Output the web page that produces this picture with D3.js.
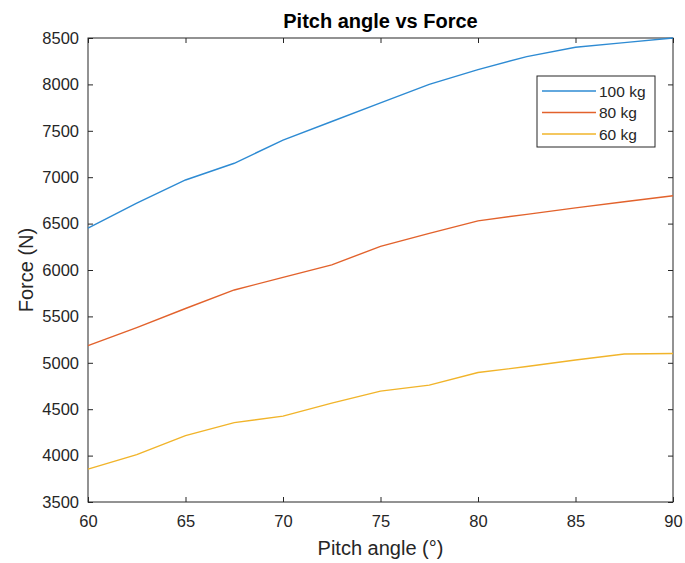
<!DOCTYPE html>
<html>
<head>
<meta charset="utf-8">
<script src="https://cdn.jsdelivr.net/npm/d3@7"></script>
<style>
  body { margin: 0; background: #fff; }
  svg { font-family: "Liberation Sans", Arial, sans-serif; }
</style>
</head>
<body>
<div id="chart"></div>
<script>
// Pitch angle (deg)
const pitchAngles = [60, 62.5, 65, 67.5, 70, 72.5, 75, 77.5, 80, 82.5, 85, 87.5, 90];
// Force (N) per mass
const force100 = [6450, 6720, 6970, 7150, 7400, 7600, 7800, 8000, 8160, 8300, 8400, 8450, 8500];
const force80 = [5185, 5380, 5585, 5785, 5920, 6055, 6255, 6395, 6530, 6600, 6670, 6735, 6800];
const force60 = [3855, 4010, 4215, 4355, 4425, 4565, 4695, 4760, 4895, 4960, 5030, 5095, 5100];
const seriesNames = ["100 kg", "80 kg", "60 kg"];
const seriesColors = ["#2e8bd3", "#e2622c", "#f1b42a"];
const xTicks = [60, 65, 70, 75, 80, 85, 90];
const yTicks = [3500, 4000, 4500, 5000, 5500, 6000, 6500, 7000, 7500, 8000, 8500];

const width = 685, height = 563;
const margin = { top: 38, right: 12, bottom: 61, left: 88 };
const innerW = width - margin.left - margin.right;
const innerH = height - margin.top - margin.bottom;
const axisColor = "#262626";

const svg = d3.select("#chart").append("svg")
  .attr("width", width)
  .attr("height", height);

const g = svg.append("g")
  .attr("transform", `translate(${margin.left},${margin.top})`);

const x = d3.scaleLinear().domain([60, 90]).range([0, innerW]);
const y = d3.scaleLinear().domain([3500, 8500]).range([innerH, 0]);

// axes with inward ticks
const styleAxis = (sel) => {
  sel.select(".domain").remove();
  sel.selectAll(".tick line").attr("stroke", axisColor);
  sel.selectAll(".tick text")
    .attr("fill", axisColor)
    .style("font-size", "16.5px");
};

g.append("g")
  .attr("transform", `translate(0,${innerH})`)
  .call(d3.axisBottom(x).tickValues(xTicks).tickSize(-5).tickPadding(13).tickFormat(d3.format("d")))
  .call(styleAxis);

g.append("g")
  .call(d3.axisTop(x).tickValues(xTicks).tickSize(-5).tickFormat(""))
  .call(styleAxis);

g.append("g")
  .call(d3.axisLeft(y).tickValues(yTicks).tickSize(-5).tickPadding(9).tickFormat(d3.format("d")))
  .call(styleAxis);

g.append("g")
  .attr("transform", `translate(${innerW},0)`)
  .call(d3.axisRight(y).tickValues(yTicks).tickSize(-5).tickFormat(""))
  .call(styleAxis);

// box
g.append("rect")
  .attr("width", innerW)
  .attr("height", innerH)
  .attr("fill", "none")
  .attr("stroke", axisColor)
  .attr("stroke-width", 1);

// lines
const allSeries = [force100, force80, force60];
const line = d3.line()
  .x((d, i) => x(pitchAngles[i]))
  .y(d => y(d));

allSeries.forEach((vals, i) => {
  g.append("path")
    .datum(vals)
    .attr("fill", "none")
    .attr("stroke", seriesColors[i])
    .attr("stroke-width", 1.4)
    .attr("d", line);
});

// legend
const legend = svg.append("g").attr("transform", "translate(537,76)");
legend.append("rect")
  .attr("width", 118)
  .attr("height", 71)
  .attr("fill", "#fff")
  .attr("stroke", axisColor)
  .attr("stroke-width", 1);

seriesNames.forEach((name, i) => {
  const ly = 15 + i * 21.5;
  legend.append("line")
    .attr("x1", 5).attr("x2", 59)
    .attr("y1", ly).attr("y2", ly)
    .attr("stroke", seriesColors[i])
    .attr("stroke-width", 1.4);
  legend.append("text")
    .attr("x", 62)
    .attr("y", ly + 5.5)
    .attr("fill", axisColor)
    .style("font-size", "15.5px")
    .text(name);
});

// title and labels
svg.append("text")
  .attr("x", margin.left + innerW / 2)
  .attr("y", 28)
  .attr("text-anchor", "middle")
  .attr("fill", "#000")
  .style("font-size", "20px")
  .style("font-weight", "bold")
  .text("Pitch angle vs Force");

svg.append("text")
  .attr("x", margin.left + innerW / 2)
  .attr("y", 555)
  .attr("text-anchor", "middle")
  .attr("fill", axisColor)
  .style("font-size", "20px")
  .text("Pitch angle (°)");

svg.append("text")
  .attr("transform", `translate(33,${margin.top + innerH / 2}) rotate(-90)`)
  .attr("text-anchor", "middle")
  .attr("fill", axisColor)
  .style("font-size", "20px")
  .text("Force (N)");
</script>
</body>
</html>
